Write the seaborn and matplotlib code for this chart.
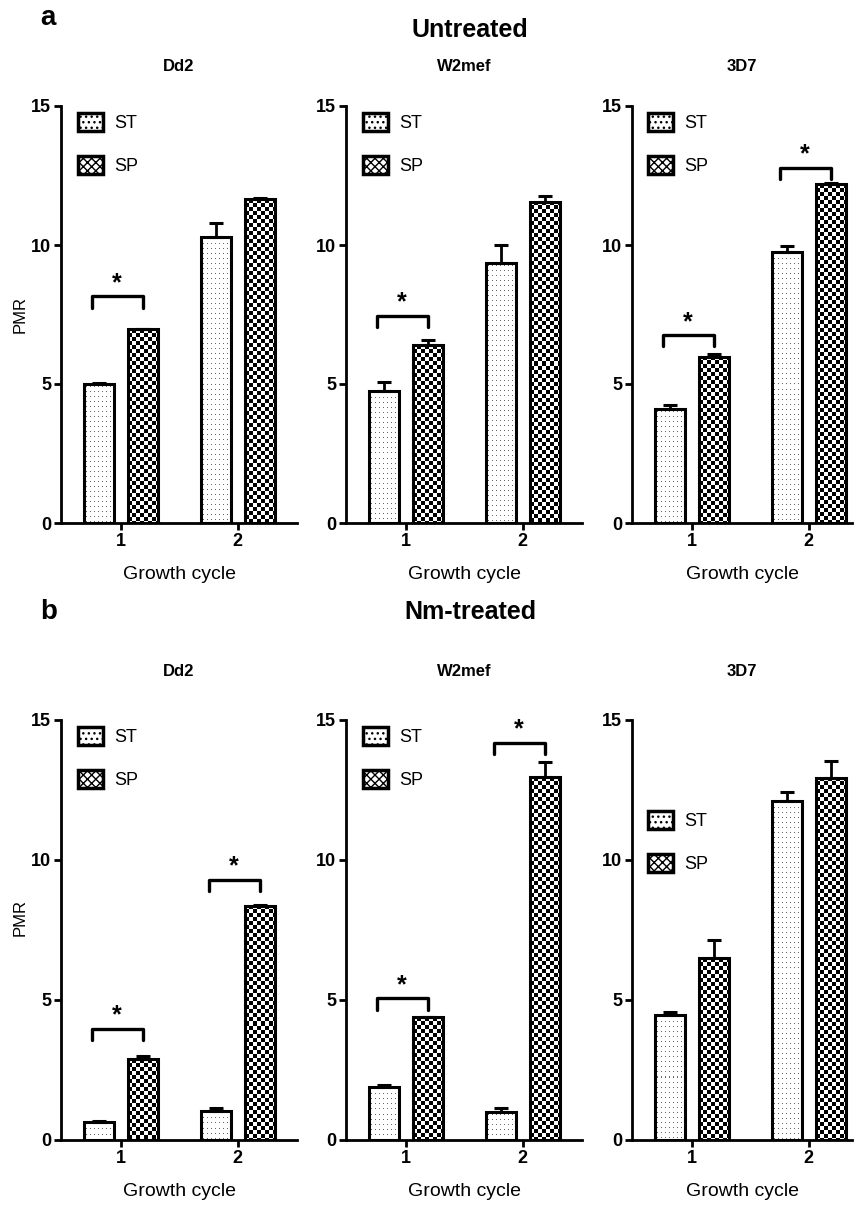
import numpy as np
import pandas as pd
import seaborn as sns
import matplotlib.pyplot as plt
from matplotlib.patches import Patch

sns.set_style('white')
plt.rcParams['font.family'] = ['Liberation Sans', 'DejaVu Sans']
plt.rcParams['text.color'] = 'black'
plt.rcParams['axes.labelcolor'] = 'black'
plt.rcParams['xtick.color'] = 'black'
plt.rcParams['ytick.color'] = 'black'

# Werte
strains = ['Dd2', 'W2mef', '3D7']
cycles = ['1', '2']
groups = ['ST', 'SP']

# a: unbehandelt (je Stamm: Zyklus 1, Zyklus 2)
untreated_st = [[5.0, 10.3], [4.76, 9.35], [4.1, 9.76]]
untreated_st_err = [[0.05, 0.5], [0.3, 0.65], [0.15, 0.2]]
untreated_sp = [[6.97, 11.65], [6.39, 11.55], [5.98, 12.18]]
untreated_sp_err = [[0.02, 0.03], [0.18, 0.2], [0.1, 0.05]]
untreated_sig = [[(0, 8.15)], [(0, 7.45)], [(0, 6.75), (1, 12.77)]]

# b: Nm-behandelt
nm_st = [[0.65, 1.05], [1.9, 1.0], [4.48, 12.12]]
nm_st_err = [[0.03, 0.09], [0.05, 0.15], [0.08, 0.32]]
nm_sp = [[2.88, 8.36], [4.38, 12.96], [6.49, 12.93]]
nm_sp_err = [[0.12, 0.03], [0.03, 0.55], [0.65, 0.62]]
nm_sig = [[(0, 3.96), (1, 9.29)], [(0, 5.06), (1, 14.18)], []]

W, H = 855, 1211
fig = plt.figure(figsize=(W / 100, H / 100), dpi=100)

lefts = [61, 346, 632]
widths = [236, 236, 220]
rows = [(106, 523), (720, 1140)]
title_pads = [25, 32]
ylabel_y = [0.5, 0.53]


def fill_pattern(ax, patch, kind):
    x0, y0 = patch.get_x(), patch.get_y()
    x1, y1 = x0 + patch.get_width(), y0 + patch.get_height()
    (px0, py0), (px1, py1) = ax.transData.transform([(x0, y0), (x1, y1)])
    w = max(int(round(px1 - px0)), 1)
    h = max(int(round(py1 - py0)), 1)
    if kind == 'SP':
        arr = ((np.arange(h)[:, None] // 4 + np.arange(w)[None, :] // 4) % 2).astype(float)
    else:
        arr = np.zeros((h, w))
        arr[2::5, 2::4] = 0.6
    ax.imshow(arr, extent=(x0, x1, y0, y1), cmap='gray_r', vmin=0, vmax=1,
              interpolation='nearest', aspect='auto', origin='upper', zorder=1)


def panel(ax, st, st_err, sp, sp_err, sig, title, show_ylabel, legend_y, xmax, tpad, ly):
    df = pd.DataFrame({
        'cycle': cycles * 2,
        'group': ['ST'] * 2 + ['SP'] * 2,
        'PMR': list(st) + list(sp),
    })
    sns.barplot(data=df, x='cycle', y='PMR', hue='group', order=cycles, hue_order=groups,
                width=0.75, gap=0.32, errorbar=None, legend=False, ax=ax)
    ax.set_xlim(-0.51, xmax)
    ax.set_ylim(0, 15)

    errs = [st_err, sp_err]
    vals = [st, sp]
    centers = {}
    bar_conts = list(ax.containers)
    for gi, cont in enumerate(bar_conts):
        xs = []
        for patch in cont.patches:
            patch.set_facecolor('none')
            patch.set_edgecolor('black')
            patch.set_linewidth(2.2)
            patch.set_zorder(2)
            fill_pattern(ax, patch, groups[gi])
            xs.append(patch.get_x() + patch.get_width() / 2)
        centers[groups[gi]] = xs
        ax.errorbar(xs, vals[gi], yerr=[np.zeros(2), errs[gi]], fmt='none', ecolor='black',
                    elinewidth=2, capsize=5, capthick=2.2, zorder=3)

    for ci, yb in sig:
        xl = centers['ST'][ci] - 0.06
        xr = centers['SP'][ci]
        ax.plot([xl, xl, xr, xr], [yb - 0.4, yb, yb, yb - 0.4], color='black', lw=2.4,
                clip_on=False, zorder=4)
        ax.text((xl + xr) / 2, yb + 0.05, '*', ha='center', va='bottom', fontsize=18,
                fontweight='bold', clip_on=False)

    ax.set_xlim(-0.51, xmax)
    ax.set_ylim(0, 15)
    ax.set_yticks([0, 5, 10, 15])
    sns.despine(ax=ax)
    for s in ['left', 'bottom']:
        ax.spines[s].set_linewidth(2)
        ax.spines[s].set_color('black')
    ax.tick_params(axis='both', width=2, length=5, color='black', labelsize=13, pad=2,
                   left=True, bottom=True)
    for lab in ax.get_xticklabels() + ax.get_yticklabels():
        lab.set_fontweight('bold')
    ax.set_xlabel('Growth cycle', fontsize=14, labelpad=12)
    if show_ylabel:
        ax.set_ylabel('PMR', fontsize=12)
        ax.yaxis.set_label_coords(-0.14, ly)
    else:
        ax.set_ylabel('')
    ax.set_title(title, fontsize=12, fontweight='bold', pad=tpad)

    handles = [Patch(facecolor='white', edgecolor='black', hatch='...', lw=2.5, label='ST'),
               Patch(facecolor='white', edgecolor='black', hatch='xxxx', lw=2.5, label='SP')]
    ax.legend(handles=handles, loc='upper left', bbox_to_anchor=(0.04, legend_y), frameon=False,
              fontsize=13, handlelength=1.4, handleheight=1.1, labelspacing=1.35,
              handletextpad=0.6, borderaxespad=0)


datasets = [
    (untreated_st, untreated_st_err, untreated_sp, untreated_sp_err, untreated_sig),
    (nm_st, nm_st_err, nm_sp, nm_sp_err, nm_sig),
]
legend_ys = [[1.0, 1.0, 1.0], [1.0, 1.0, 0.80]]

for r, (y15, y0) in enumerate(rows):
    st, st_err, sp, sp_err, sig = datasets[r]
    for i in range(3):
        ax = fig.add_axes([lefts[i] / W, 1 - y0 / H, widths[i] / W, (y0 - y15) / H])
        xmax = -0.51 + widths[i] / 117
        panel(ax, st[i], st_err[i], sp[i], sp_err[i], sig[i], strains[i], i == 0,
              legend_ys[r][i], xmax, title_pads[r], ylabel_y[r])

fig.text(40 / W, 1 - 18 / H, 'a', fontsize=20, fontweight='bold', va='center')
fig.text(470 / W, 1 - 30 / H, 'Untreated', fontsize=18, fontweight='bold', ha='center',
         va='center')
fig.text(40 / W, 1 - 612 / H, 'b', fontsize=20, fontweight='bold', va='center')
fig.text(470 / W, 1 - 612 / H, 'Nm-treated', fontsize=18, fontweight='bold', ha='center',
         va='center')

fig.savefig('out.png', dpi=100)
